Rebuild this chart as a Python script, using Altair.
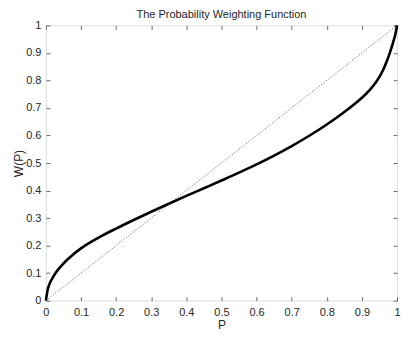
import altair as alt
import pandas as pd

# Values
p_vals = [0, 0.005, 0.01, 0.02, 0.03, 0.05, 0.075, 0.1, 0.15, 0.2, 0.25, 0.3,
          0.35, 0.4, 0.45, 0.5, 0.55, 0.6, 0.65, 0.7, 0.75, 0.8, 0.85, 0.9,
          0.92, 0.94, 0.96, 0.97, 0.98, 0.99, 0.995, 1.0]
w_vals = [0, 0.04, 0.06, 0.085, 0.105, 0.135, 0.165, 0.19, 0.229, 0.262, 0.293, 0.323,
          0.352, 0.3805, 0.4085, 0.4365, 0.465, 0.495, 0.527, 0.5615, 0.599, 0.64, 0.6855, 0.737,
          0.762, 0.793, 0.837, 0.867, 0.902, 0.943, 0.966, 1.0]
diag_p = [0, 1]
diag_w = [0, 1]
x_ticks = [0, 0.1, 0.2, 0.3, 0.4, 0.5, 0.6, 0.7, 0.8, 0.9, 1]
y_ticks = [0, 0.1, 0.2, 0.3, 0.4, 0.5, 0.6, 0.7, 0.8, 0.9, 1]

W, H = 352, 276
FRAME = "#6a6a6a"
TXT = "#262626"
FONT = "Liberation Sans"

curve_df = pd.DataFrame({"P": p_vals, "W": w_vals})
diag_df = pd.DataFrame({"P": diag_p, "W": diag_w})

x_enc = alt.X(
    "P:Q",
    scale=alt.Scale(domain=[0, 1], nice=False, zero=False),
    axis=alt.Axis(
        values=x_ticks, format=".1~f", title="P", ticks=False, domain=False,
        labelPadding=6, labelFontSize=11, titleFontSize=12, titleY=19,
        titleFontWeight="normal", labelFont=FONT, titleFont=FONT,
        labelColor=TXT, titleColor=TXT,
        grid=True, gridColor=FRAME, gridOpacity=1, gridWidth=1,
        gridDash=[4, H - 8, 4, 3000], labelFlush=False,
    ),
)
y_enc = alt.Y(
    "W:Q",
    scale=alt.Scale(domain=[0, 1], nice=False, zero=False),
    axis=alt.Axis(
        values=y_ticks, format=".1~f", title="W(P)", ticks=False, domain=False,
        labelPadding=5, labelFontSize=11, titleFontSize=12, titleX=-20,
        titleFontWeight="normal", labelFont=FONT, titleFont=FONT,
        labelColor=TXT, titleColor=TXT,
        grid=True, gridColor=FRAME, gridOpacity=1, gridWidth=1,
        gridDash=[4, W - 8, 4, 3000], labelFlush=False,
    ),
)

diag = alt.Chart(diag_df).mark_line(
    color="#555555", strokeWidth=1, strokeDash=[1, 2]
).encode(x=x_enc, y=y_enc)

curve = alt.Chart(curve_df).mark_line(
    color="black", strokeWidth=2.6, interpolate="monotone"
).encode(x=x_enc, y=y_enc)

chart = alt.layer(diag, curve).properties(
    width=W,
    height=H,
    title=alt.TitleParams(
        "The Probability Weighting Function", fontSize=11, font=FONT,
        fontWeight="normal", color=TXT, offset=-1, anchor="middle",
    ),
    autosize="none",
    padding={"left": 38, "top": 17, "right": 6, "bottom": 31},
).configure_view(
    stroke=FRAME, strokeWidth=1
).configure(background="white")

chart.save("out.html", embed_options={"renderer": "svg", "actions": False})
